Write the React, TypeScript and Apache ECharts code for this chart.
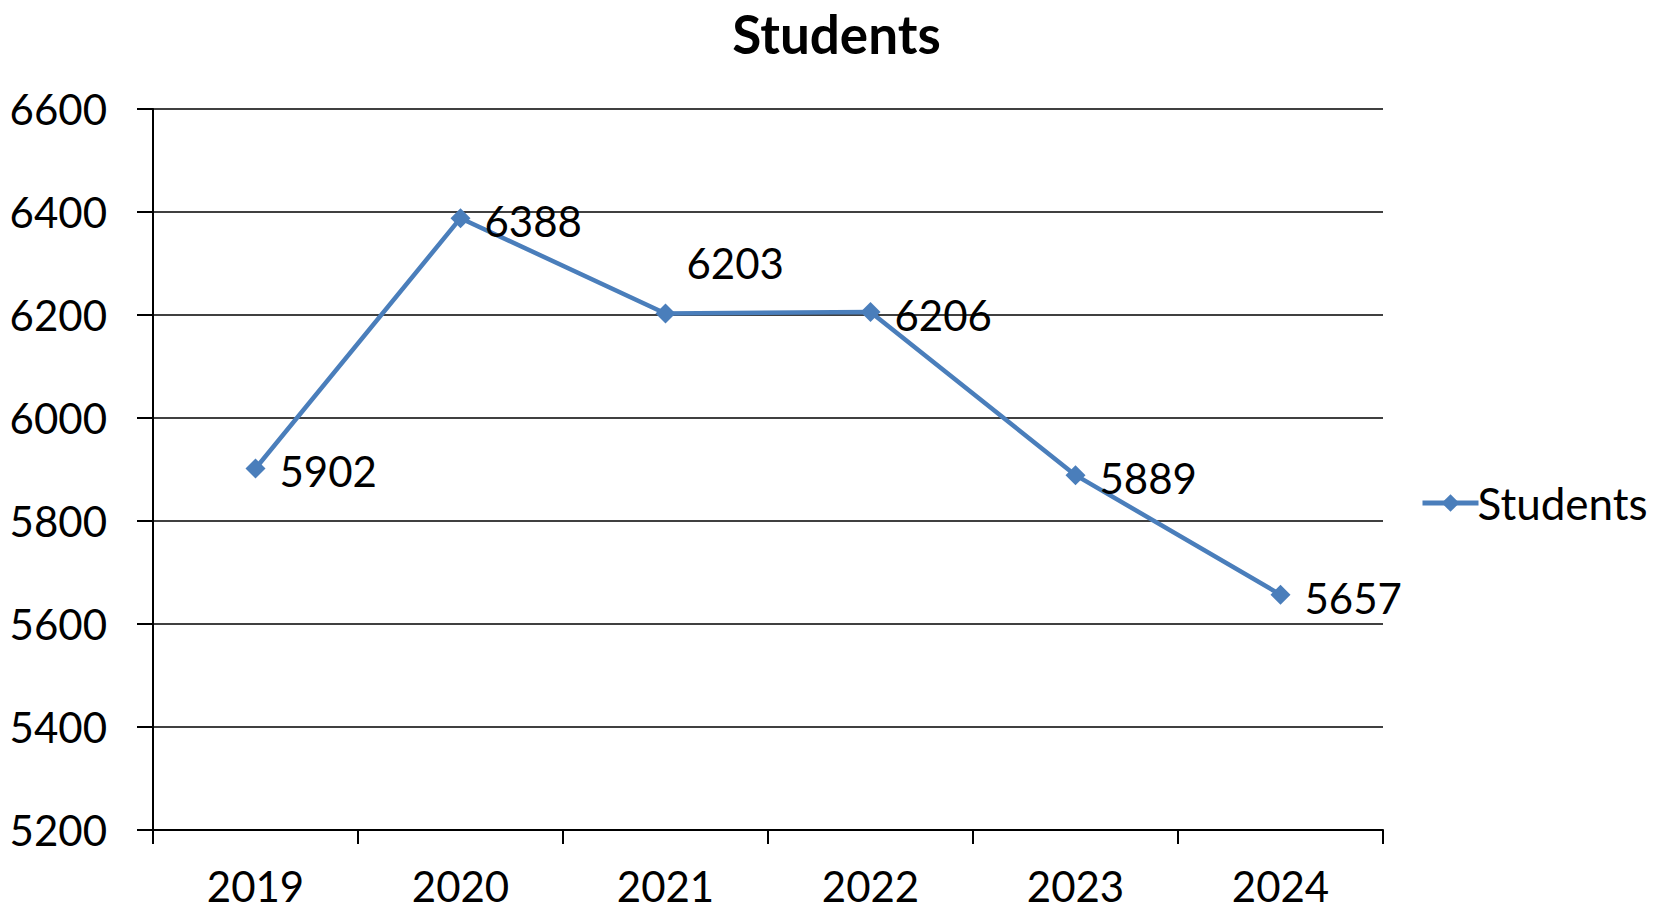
import React, { useEffect, useRef } from "react";
import * as echarts from "echarts";

const categories = ["2019", "2020", "2021", "2022", "2023", "2024"];
const students = [5902, 6388, 6203, 6206, 5889, 5657];
const yTicks = { min: 5200, max: 6600, interval: 200 };

const FONT = "Lato";
const BLUE = "#4A7EBB";

export default function App() {
  const ref = useRef<HTMLDivElement>(null);
  useEffect(() => {
    document.body.style.margin = "0";
    const chart = echarts.init(ref.current!, null, { renderer: "svg" });
    chart.setOption({
      animation: false,
      backgroundColor: "#ffffff",
      textStyle: { fontFamily: FONT, color: "#000" },
      title: {
        text: "Students",
        left: "center",
        top: 2,
        padding: 0,
        textStyle: { fontFamily: FONT, fontWeight: "bold", fontSize: 53, lineHeight: 62, color: "#000" },
      },
      legend: {
        orient: "vertical",
        left: 1415,
        top: 476,
        itemWidth: 56,
        itemHeight: 22,
        itemGap: 6,
        lineStyle: { width: 5, color: BLUE },
        itemStyle: { color: BLUE },
        textStyle: { fontFamily: FONT, fontSize: 44, color: "#000", padding: [0, 0, 0, -6] },
        data: ["Students"],
      },
      grid: { left: 153, right: 290, top: 109, bottom: 81, containLabel: false },
      xAxis: {
        type: "category",
        data: categories,
        boundaryGap: true,
        axisLine: { lineStyle: { color: "#000", width: 2 } },
        axisTick: { show: true, inside: false, length: 14, lineStyle: { color: "#000", width: 2 } },
        axisLabel: { fontFamily: FONT, fontSize: 42, color: "#000", margin: 42, lineHeight: 28 },
        splitLine: { show: false },
      },
      yAxis: {
        type: "value",
        min: yTicks.min,
        max: yTicks.max,
        interval: yTicks.interval,
        axisLine: { show: true, lineStyle: { color: "#000", width: 2 } },
        axisTick: { show: true, length: 16, lineStyle: { color: "#000", width: 2 } },
        axisLabel: {
          fontFamily: FONT,
          fontSize: 42,
          color: "#000",
          margin: 46,
          formatter: (v: number) => String(v),
        },
        splitLine: { show: true, lineStyle: { color: "#000", width: 1.5 } },
      },
      series: [
        {
          name: "Students",
          type: "line",
          data: students.map((v, i) =>
            i === 2
              ? { value: v, label: { position: "right", offset: [-3, -50] } }
              : { value: v }
          ),
          symbol: "diamond",
          symbolSize: 20,
          lineStyle: { color: BLUE, width: 4.5 },
          itemStyle: { color: BLUE },
          label: {
            show: true,
            position: "right",
            distance: 14,
            fontFamily: FONT,
            fontSize: 42,
            color: "#000",
            offset: [0, 3],
          },
        },
      ],
    });
    return () => chart.dispose();
  }, []);
  return <div ref={ref} style={{ width: "100vw", height: "100vh" }} />;
}
